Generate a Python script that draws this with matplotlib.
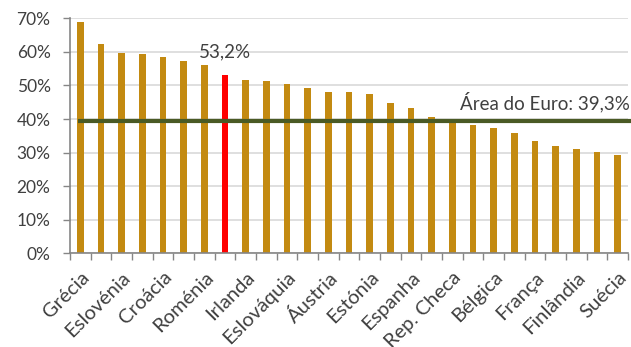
import numpy as np
import matplotlib
matplotlib.use("Agg")
import matplotlib.pyplot as plt

plt.rcParams['font.family'] = ['Lato', 'DejaVu Sans']

# países (só os ímpares aparecem no eixo)
paises = ["Grécia", "Chipre", "Eslovénia", "Bulgária", "Croácia", "Itália",
          "Roménia", "Portugal", "Irlanda", "Hungria", "Eslováquia", "Polónia",
          "Áustria", "Letónia", "Estónia", "Lituânia", "Espanha", "Malta",
          "Rep. Checa", "Alemanha", "Bélgica", "Luxemburgo", "França",
          "Países Baixos", "Finlândia", "Dinamarca", "Suécia"]
valores = [68.8, 62.3, 59.6, 59.4, 58.5, 57.3, 56.2, 53.2, 51.5, 51.3, 50.4,
           49.2, 48.0, 47.9, 47.5, 44.8, 43.4, 40.5, 39.0, 38.2, 37.3, 35.8,
           33.5, 32.0, 31.1, 30.2, 29.3]
destaque = "Portugal"
area_euro = 39.3

cor_barra = "#C38A11"
cor_destaque = "#FF0000"
cor_linha = "#4A5A25"
cinza = "#404040"

fig = plt.figure(figsize=(6.31, 3.47), dpi=100)
ax = fig.add_axes([70/631, 1 - 253.3/347, 558/631, (253.3 - 18.3)/347])

x = np.arange(len(paises))
v = np.array(valores) / 100
cores = [cor_destaque if p == destaque else cor_barra for p in paises]
ax.bar(x, v, width=0.32, color=cores, zorder=2)

ax.set_xlim(-0.5, len(paises) - 0.5)
ax.set_ylim(0, 0.7)
ax.set_yticks(np.arange(0, 0.71, 0.1))
ax.set_yticklabels([f"{int(round(t*100))}%" for t in np.arange(0, 0.71, 0.1)])
ax.yaxis.grid(True, color="#D9D9D9", lw=1.2, zorder=0)
ax.set_axisbelow(True)

ax.set_xticks(x[::2])
ax.set_xticklabels(paises[::2], rotation=45, ha="right", va="top",
                   rotation_mode="anchor")
ax.set_xticks(np.arange(-0.5, len(paises), 1), minor=True)
ax.tick_params(axis="x", which="major", length=0, pad=11, labelsize=14.5,
               labelcolor=cinza)
ax.tick_params(axis="x", which="minor", length=5, width=1, color="#868686")
ax.tick_params(axis="y", length=5, width=1, color="#868686", pad=9,
               labelsize=12.5, labelcolor=cinza)

for s in ["top", "right"]:
    ax.spines[s].set_visible(False)
for s in ["left", "bottom"]:
    ax.spines[s].set_color("#868686")
    ax.spines[s].set_linewidth(1.2)

# linha da área do euro
ax.plot([-0.1, len(paises) - 0.3], [area_euro/100]*2, color=cor_linha,
        lw=3, zorder=3, clip_on=False, solid_capstyle="butt")
ax.text(18.37, 0.43, f"Área do Euro: {area_euro:.1f}%".replace(".", ","),
        fontsize=13.5, color=cinza, va="baseline", ha="left", clip_on=False)

i = paises.index(destaque)
ax.text(i, 0.584, f"{valores[i]:.1f}%".replace(".", ","), fontsize=13.5,
        color=cinza, ha="center", va="baseline")

fig.savefig("out.png", dpi=100)
